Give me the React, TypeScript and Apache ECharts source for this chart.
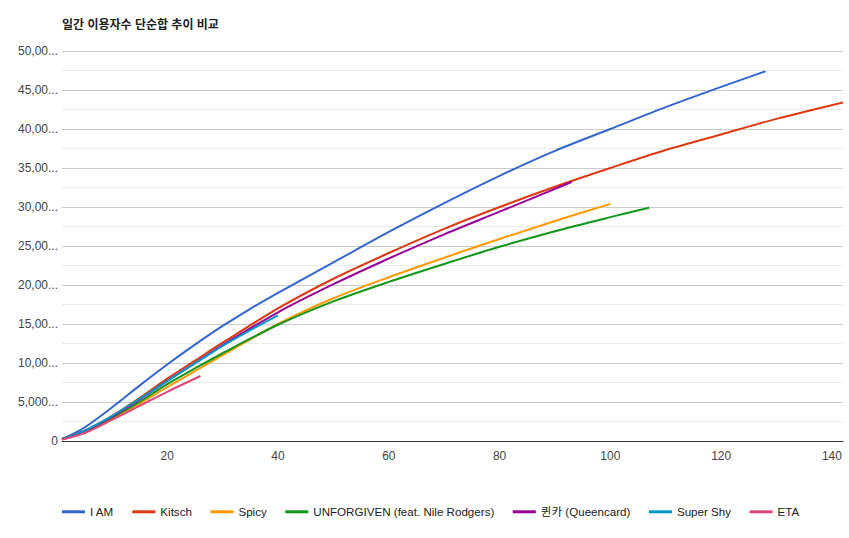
import React, { useEffect, useRef } from "react";
import * as echarts from "echarts";

const TITLE = "일간 이용자수 단순합 추이 비교";
const SERIES_NAMES = ["I AM", "Kitsch", "Spicy", "UNFORGIVEN (feat. Nile Rodgers)", "퀸카 (Queencard)", "Super Shy", "ETA"];
const COLORS = ["#3366cc", "#dc3912", "#ff9900", "#109618", "#990099", "#0099c6", "#dd4477"];
const X_TICKS = [20, 40, 60, 80, 100, 120, 140];

const iamX = [1, 5, 10, 15, 20, 25, 30, 35, 40, 50, 60, 70, 80, 90, 100, 110, 120, 128];
const iamV = [250, 1700, 4300, 7100, 9800, 12350, 14750, 16950, 19000, 22900, 26800, 30500, 34000, 37200, 40000, 42800, 45400, 47400];

const kitschX = [1, 5, 10, 15, 20, 25, 30, 40, 50, 60, 70, 80, 90, 100, 110, 120, 130, 142];
const kitschV = [250, 1300, 3200, 5500, 8000, 10300, 12600, 17000, 20800, 24100, 27200, 30000, 32600, 35000, 37300, 39300, 41300, 43400];

const spicyX = [1, 5, 10, 15, 20, 25, 30, 40, 50, 60, 70, 80, 90, 100];
const spicyV = [200, 1100, 2800, 4800, 6900, 8950, 11000, 15000, 18300, 21000, 23500, 25900, 28200, 30400];

const unforgivenX = [1, 5, 10, 15, 20, 25, 30, 40, 50, 60, 70, 80, 90, 100, 107];
const unforgivenV = [250, 1250, 3000, 5000, 7300, 9300, 11250, 14900, 17900, 20400, 22700, 24900, 26900, 28700, 29900];

const queencardX = [1, 5, 10, 15, 20, 25, 30, 40, 50, 60, 70, 80, 93];
const queencardV = [250, 1250, 3100, 5300, 7700, 10000, 12300, 16500, 20100, 23400, 26500, 29400, 33200];

const superShyX = [1, 5, 10, 15, 20, 25, 30, 35, 40];
const superShyV = [250, 1300, 3200, 5400, 7700, 9950, 12200, 14200, 16100];

const etaX = [1, 5, 10, 15, 20, 26];
const etaV = [200, 1000, 2700, 4500, 6300, 8330];

const ALL_X = [iamX, kitschX, spicyX, unforgivenX, queencardX, superShyX, etaX];
const ALL_V = [iamV, kitschV, spicyV, unforgivenV, queencardV, superShyV, etaV];

const FONT = 'Arial, "Liberation Sans", "Noto Sans CJK KR", sans-serif';

export default function App() {
  const ref = useRef<HTMLDivElement>(null);
  useEffect(() => {
    if (!ref.current) return;
    const chart = echarts.init(ref.current, null, { renderer: "svg" });
    const series = SERIES_NAMES.map((name, i) => ({
      name,
      type: "line",
      data: ALL_X[i].map((x, j) => [x, ALL_V[i][j]]),
      showSymbol: false,
      symbol: "none",
      smooth: 0.3,
      lineStyle: { width: 2, color: COLORS[i] },
      itemStyle: { color: COLORS[i] },
    }));
    chart.setOption({
      animation: false,
      backgroundColor: "#ffffff",
      title: {
        text: TITLE,
        left: 62,
        top: 19,
        padding: 0,
        textStyle: { fontFamily: FONT, fontSize: 12, fontWeight: "bold", color: "#222" },
      },
      legend: {
        left: 62,
        top: 506,
        padding: 0,
        icon: "rect",
        itemWidth: 23,
        itemHeight: 3,
        itemGap: 18.5,
        textStyle: { fontFamily: FONT, fontSize: 11.6, color: "#222" },
        data: SERIES_NAMES,
      },
      grid: { left: 62, right: 6, top: 51, bottom: 97, containLabel: false },
      xAxis: {
        type: "value",
        min: 1,
        max: 142,
        axisLine: { show: true, lineStyle: { color: "#333", width: 1 } },
        axisTick: { show: false },
        splitLine: { show: false },
        axisLabel: {
          customValues: X_TICKS,
          color: "#444",
          fontSize: 12,
          fontFamily: FONT,
          margin: 9,
        },
      },
      yAxis: {
        type: "value",
        min: 0,
        max: 50000,
        interval: 5000,
        axisLine: { show: false },
        axisTick: { show: false },
        splitLine: { show: true, lineStyle: { color: "#cccccc", width: 1 } },
        minorTick: { show: false, splitNumber: 2 },
        minorSplitLine: { show: true, lineStyle: { color: "#ebebeb", width: 1 } },
        axisLabel: {
          color: "#444",
          fontSize: 12,
          fontFamily: FONT,
          margin: 4,
          formatter: (v: number) => (v === 0 ? "0" : v.toLocaleString("en-US").slice(0, 5) + "..."),
        },
      },
      series,
    });
    return () => chart.dispose();
  }, []);
  return (
    <div
      ref={ref}
      style={{ position: "fixed", left: 0, top: 0, width: 849, height: 538, background: "#fff" }}
    />
  );
}
